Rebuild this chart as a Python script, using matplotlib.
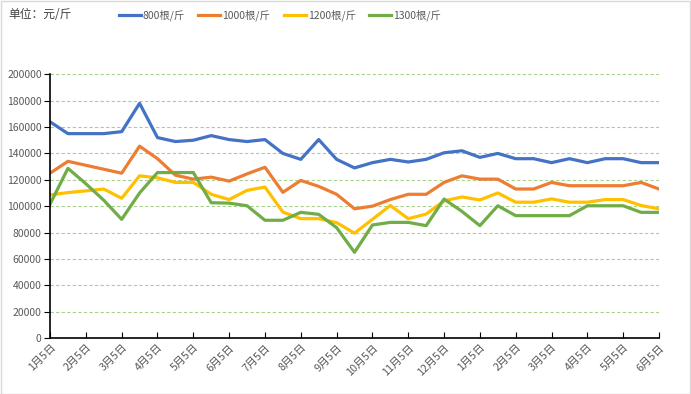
import matplotlib.pyplot as plt
from matplotlib.patches import Rectangle

plt.rcParams['font.family'] = ['Noto Sans CJK SC', 'DejaVu Sans']

# tick labels (one every month, data every half month)
months = ['1月5日', '2月5日', '3月5日', '4月5日', '5月5日', '6月5日', '7月5日', '8月5日', '9月5日',
          '10月5日', '11月5日', '12月5日', '1月5日', '2月5日', '3月5日', '4月5日', '5月5日', '6月5日']

# prices, yuan per jin
p800 = [164000, 155000, 155000, 155000, 156500, 178000, 152000, 149000, 150000, 153500, 150500, 149000,
        150500, 140000, 135500, 150500, 135500, 129000, 133000, 135500, 133500, 135500, 140500, 142000,
        137000, 140000, 136000, 136000, 133000, 136000, 133000, 136000, 136000, 133000, 133000]
p1000 = [125000, 134000, 131000, 128000, 125000, 145500, 136000, 123500, 120500, 122000, 119000, 124500,
         129500, 110500, 119500, 115000, 109000, 98000, 100000, 105000, 109000, 109000, 118000, 123000,
         120500, 120500, 113000, 113000, 118000, 115500, 115500, 115500, 115500, 118000, 113000]
p1200 = [108500, 110300, 111600, 113000, 106000, 123000, 121500, 118000, 118000, 109000, 105000, 112000,
         114500, 95500, 90500, 90500, 87500, 79500, 90000, 100500, 90500, 94000, 104000, 107000,
         104700, 110000, 103000, 103000, 105500, 103000, 103000, 105000, 105000, 100500, 98000]
p1300 = [101500, 128700, 117000, 104500, 90000, 110000, 125500, 125500, 125500, 102600, 102300, 100300,
         89300, 89300, 95300, 93800, 83700, 65000, 85700, 87700, 87700, 85200, 105400, 96000,
         85200, 100300, 92800, 92800, 92800, 92800, 100300, 100300, 100300, 95300, 95300]

series = [('800根/斤', p800, '#4472C4'),
          ('1000根/斤', p1000, '#ED7D31'),
          ('1200根/斤', p1200, '#FFC000'),
          ('1300根/斤', p1300, '#70AD47')]

fig = plt.figure(figsize=(6.91, 3.94), dpi=100)
ax = fig.add_axes([0.0724, 0.1421, 0.8813, 0.6693])

x = list(range(len(p800)))
for name, vals, col in series:
    ax.plot(x, vals, color=col, lw=2.3, label=name, solid_joinstyle='round')

ax.set_xlim(0, len(p800) - 1)
ax.set_ylim(0, 200000)
ax.set_yticks(range(0, 200001, 20000))
ax.set_xticks(range(0, len(p800), 2))
ax.set_xticklabels(months, rotation=45, ha='right', va='top', rotation_mode='anchor')

ax.grid(axis='y', color='#A9D18E', ls='--', lw=0.8, dashes=(3, 2))
ax.set_axisbelow(True)
for s in ['top', 'right']:
    ax.spines[s].set_visible(False)
for s in ['left', 'bottom']:
    ax.spines[s].set_linewidth(1.2)
ax.tick_params(axis='y', direction='out', length=4, labelsize=7.5, labelcolor='#595959', pad=2)
ax.tick_params(axis='x', direction='in', length=4, labelsize=7.8, labelcolor='#595959', pad=3)

fig.legend(loc='center', bbox_to_anchor=(0.405, 0.962), ncol=4, frameon=False, fontsize=7.5,
           handlelength=2.1, handletextpad=0.2, columnspacing=1.3, labelcolor='#595959')
fig.text(0.012, 0.962, '单位：元/斤', fontsize=8.5, color='#404040', va='center')

fig.patches.append(Rectangle((0.001, 0.001), 0.997, 0.997, transform=fig.transFigure,
                             fill=False, edgecolor='#D9D9D9', lw=1))

fig.savefig('out.png', dpi=100)
